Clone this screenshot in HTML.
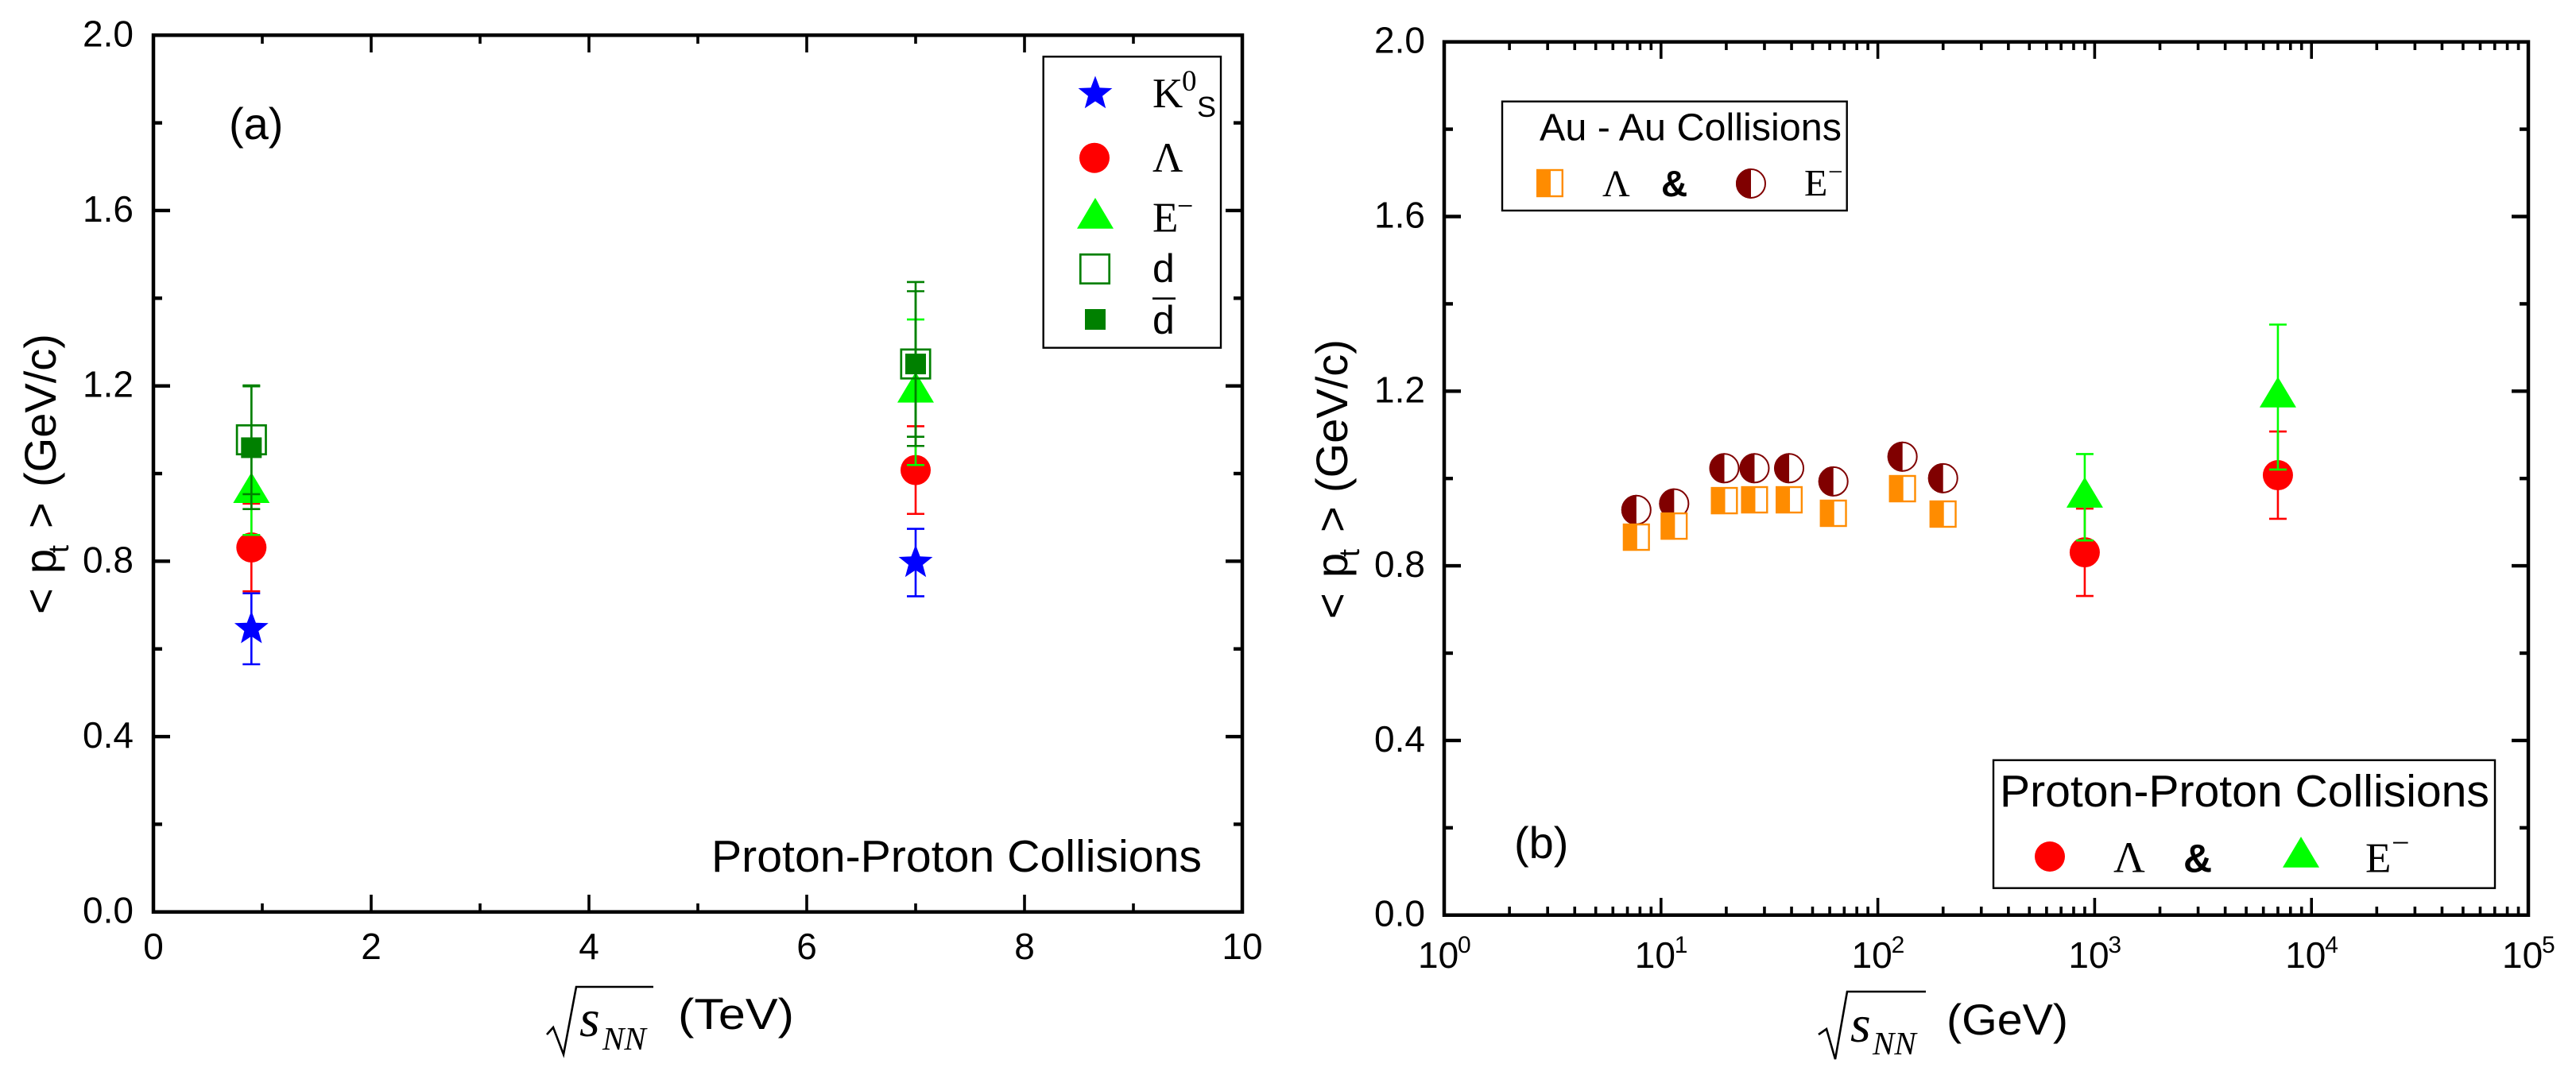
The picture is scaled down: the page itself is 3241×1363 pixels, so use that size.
<!DOCTYPE html>
<html lang="en">
<head>
<meta charset="utf-8">
<title>Mean transverse momentum versus collision energy</title>
<style>
html,body{margin:0;padding:0;background:#fff;width:3241px;height:1363px;overflow:hidden}
svg{display:block}
.sans{font-family:"Liberation Sans",Arial,sans-serif;fill:#000}
.serif{font-family:"Liberation Serif","Times New Roman",serif;fill:#000}
.tick{font-size:46px}
.ytitle{font-size:56px}
</style>
</head>
<body>
<svg id="figure" xmlns="http://www.w3.org/2000/svg" width="3241" height="1363" viewBox="0 0 3241 1363">
<rect x="0" y="0" width="3241" height="1363" fill="#fff"/>

<!-- Panel A -->
<g id="panel-a">
  <g id="a-marks"></g>
  <rect x="193" y="44.3" width="1370" height="1103.4" fill="none" stroke="#000" stroke-width="4.5"/>
  <g id="a-axes"></g>
  <text class="sans" x="288" y="175" font-size="56">(a)</text>
  <text class="sans" x="895" y="1097" font-size="56.6" textLength="617" lengthAdjust="spacingAndGlyphs">Proton-Proton Collisions</text>

  <g>
    <text class="sans ytitle" transform="translate(70,773) rotate(-90)" x="0" y="0">&lt;</text>
    <text class="sans ytitle" transform="translate(70,722) rotate(-90)" x="0" y="0">p</text>
    <text class="sans" font-size="36" transform="translate(86,696) rotate(-90)" x="0" y="0">t</text>
    <text class="sans ytitle" transform="translate(70,665) rotate(-90)" x="0" y="0">&gt;</text>
    <text class="sans ytitle" transform="translate(70,613) rotate(-90)" x="0" y="0">(GeV/c)</text>
  </g>

  <g>
    <polyline points="688,1302 696,1293 709,1327 725,1242 822,1242" fill="none" stroke="#000" stroke-width="2.6"/>
    <text class="serif" font-size="66" font-style="italic" x="729" y="1304">s</text>
    <text class="serif" font-size="41" font-style="italic" x="758" y="1321">NN</text>
    <text class="sans" font-size="55" x="853" y="1295" textLength="146" lengthAdjust="spacingAndGlyphs">(TeV)</text>
  </g>

  <g>
    <rect x="1312.7" y="71.3" width="223.3" height="366.4" fill="#fff" stroke="#000" stroke-width="2.4"/>
    <polygon id="legend-star" fill="#0000ff"/>
    <circle cx="1377" cy="198.7" r="19" fill="#ff0000"/>
    <polygon points="1378,249 1401,287.7 1355,287.7" fill="#00ff00"/>
    <rect x="1359.3" y="320.3" width="36.4" height="36.4" fill="none" stroke="#008000" stroke-width="2.7"/>
    <rect x="1365" y="389" width="26" height="26" fill="#008000"/>
    <g>
      <text class="serif" font-size="53" x="1450" y="135">K</text>
      <text class="serif" font-size="37" x="1487" y="114">0</text>
      <text class="sans" font-size="36" x="1506" y="147">S</text>
    </g>
    <text class="serif" font-size="53" x="1450" y="216">Λ</text>
    <g>
      <text class="serif" font-size="53" x="1450" y="291.7">E</text>
      <text class="serif" font-size="36" x="1481" y="271">−</text>
    </g>
    <text class="sans" font-size="50" x="1450" y="355">d</text>
    <g>
      <line x1="1450" y1="375.7" x2="1479" y2="375.7" stroke="#000" stroke-width="2.6"/>
      <text class="sans" font-size="50" x="1450" y="420">d</text>
    </g>
  </g>
</g>

<!-- Panel B -->
<g id="panel-b">
  <g id="b-marks"></g>
  <rect x="1817" y="52.7" width="1364" height="1099" fill="none" stroke="#000" stroke-width="4.5"/>
  <g id="b-axes"></g>
  <text class="sans" x="1905" y="1080" font-size="56">(b)</text>

  <g>
    <text class="sans ytitle" transform="translate(1695,779) rotate(-90)" x="0" y="0">&lt;</text>
    <text class="sans ytitle" transform="translate(1695,727) rotate(-90)" x="0" y="0">p</text>
    <text class="sans" font-size="36" transform="translate(1710,701) rotate(-90)" x="0" y="0">t</text>
    <text class="sans ytitle" transform="translate(1695,670) rotate(-90)" x="0" y="0">&gt;</text>
    <text class="sans ytitle" transform="translate(1695,620) rotate(-90)" x="0" y="0">(GeV/c)</text>
  </g>

  <g>
    <polyline points="2288,1302 2298,1295 2309,1333 2324,1248 2423,1248" fill="none" stroke="#000" stroke-width="2.6"/>
    <text class="serif" font-size="66" font-style="italic" x="2328" y="1311">s</text>
    <text class="serif" font-size="41" font-style="italic" x="2356" y="1327">NN</text>
    <text class="sans" font-size="55" x="2449" y="1302" textLength="153" lengthAdjust="spacingAndGlyphs">(GeV)</text>
  </g>

  <g>
    <rect x="1890" y="127.7" width="433.7" height="137.3" fill="#fff" stroke="#000" stroke-width="2.4"/>
    <text class="sans" font-size="47.8" x="1937" y="176.7" textLength="380" lengthAdjust="spacingAndGlyphs">Au - Au Collisions</text>
    <rect x="1934.2" y="214" width="31.6" height="33" fill="#fff" stroke="#ff8c00" stroke-width="2.4"/>
    <rect x="1934" y="214" width="17" height="33" fill="#ff8c00"/>
    <text class="serif" font-size="48" x="2016" y="247">Λ</text>
    <text class="sans" font-size="46" font-weight="bold" x="2090" y="247">&amp;</text>
    <circle cx="2203" cy="231" r="18" fill="#fff" stroke="#800000" stroke-width="2"/>
    <path d="M2203,212 A19,19 0 0 0 2203,250 Z" fill="#800000"/>
    <text class="serif" font-size="48" x="2270" y="246.7">E</text>
    <text class="serif" font-size="33" x="2300" y="227">−</text>
  </g>

  <g>
    <rect x="2508" y="956.7" width="631" height="161" fill="#fff" stroke="#000" stroke-width="2.4"/>
    <text class="sans" font-size="56.6" x="2516" y="1015" textLength="616" lengthAdjust="spacingAndGlyphs">Proton-Proton Collisions</text>
    <circle cx="2579" cy="1078" r="19" fill="#ff0000"/>
    <text class="serif" font-size="55" x="2659" y="1097.7">Λ</text>
    <text class="sans" font-size="50" font-weight="bold" x="2747" y="1097.7">&amp;</text>
    <polygon points="2895,1053 2918,1091.7 2872,1091.7" fill="#00ff00"/>
    <text class="serif" font-size="53" x="2976" y="1097.7">E</text>
    <text class="serif" font-size="40" x="3009" y="1074">−</text>
  </g>
</g>
</svg>

<script>
// ---- Shared axis values ----
const yMajorTicks = [0, 0.4, 0.8, 1.2, 1.6, 2.0];
const yMinorTicks = [0.2, 0.6, 1.0, 1.4, 1.8];
const yTickLabels = ['0.0', '0.4', '0.8', '1.2', '1.6', '2.0'];

// ---- Panel A axis values ----
const aXMajorTicks = [0, 2, 4, 6, 8, 10];
const aXMinorTicks = [1, 3, 5, 7, 9];
const aXTickLabels = ['0', '2', '4', '6', '8', '10'];

// ---- Panel A data (energy in TeV) ----
const aEnergy = [0.9, 7];
const kaon = [0.646, 0.797];
const kaonErr = [0.081, 0.077];
const lambdaPP = [0.8315, 1.008];
const lambdaPPErr = [0.1, 0.1];
const xiPP = [0.9565, 1.1855];
const xiPPErr = [0.0965, 0.166];
const deuteron = [1.077, 1.25];
const deuteronErr = [0.124, 0.187];
const antideuteron = [1.059, 1.25];
const antideuteronErr = [0.14, 0.166];

// ---- Panel B axis values ----
const bDecades = [0, 1, 2, 3, 4, 5];
const bMinorMultipliers = [2, 3, 4, 5, 6, 7, 8, 9];

// ---- Panel B data (energy in GeV) ----
const auEnergy = [7.7, 11.5, 19.6, 27, 39, 62.4, 130, 200];
const auLambda = [0.8656, 0.891, 0.9493, 0.9512, 0.9512, 0.9203, 0.9767, 0.9185];
const auXi = [0.928, 0.9427, 1.0235, 1.0235, 1.0235, 0.9933, 1.05, 1.0007];
const ppEnergy = [900, 7000];
const ppLambda = [0.831, 1.0076];
const ppLambdaErr = [0.1, 0.1];
const ppXi = [0.957, 1.1865];
const ppXiErr = [0.099, 0.166];

// ---- Axis functions ----
const axA = {
  x: v => 193 + 137 * v,
  y: v => 1147.7 - 551.7 * v
};
const axB = {
  x: v => 1817 + 272.8 * Math.log10(v),
  y: v => 1151.7 - 549.5 * v
};

const NS = 'http://www.w3.org/2000/svg';
function svgEl(parent, tag, attrs) {
  const el = document.createElementNS(NS, tag);
  for (const k in attrs) el.setAttribute(k, attrs[k]);
  parent.appendChild(el);
  return el;
}
function starPoints(cx, cy, R) {
  const pts = [];
  for (let i = 0; i < 10; i++) {
    const r = i % 2 ? R * 0.42 : R;
    const t = -Math.PI / 2 + i * Math.PI / 5;
    pts.push((cx + r * Math.cos(t)).toFixed(1) + ',' + (cy + r * Math.sin(t)).toFixed(1));
  }
  return pts.join(' ');
}

// ---- Mark drawing ----
function errorBar(parent, yFn, px, value, err, color, seriesName) {
  const g = svgEl(parent, 'g', { stroke: color, 'stroke-width': 2.6 });
  
  
  const top = yFn(value + err);
  const bot = yFn(value - err);
  const stem = svgEl(g, 'line', { x1: px, x2: px, y1: top, y2: bot });
  
  
  const capHi = svgEl(g, 'line', { x1: px - 11, x2: px + 11, y1: top, y2: top });
  
  
  const capLo = svgEl(g, 'line', { x1: px - 11, x2: px + 11, y1: bot, y2: bot });
  
  
}
function marker(parent, kind, px, py, seriesName) {
  let el;
  if (kind === 'star') {
    el = svgEl(parent, 'polygon', { points: starPoints(px, py, 22.5), fill: '#0000ff' });
  } else if (kind === 'circle') {
    el = svgEl(parent, 'circle', { cx: px, cy: py, r: 19, fill: '#ff0000' });
  } else if (kind === 'triangle') {
    el = svgEl(parent, 'polygon', {
      points: px + ',' + (py - 25.5) + ' ' + (px + 23) + ',' + (py + 13) + ' ' + (px - 23) + ',' + (py + 13),
      fill: '#00ff00'
    });
  } else if (kind === 'open-square') {
    el = svgEl(parent, 'rect', { x: px - 18.2, y: py - 18.2, width: 36.4, height: 36.4, fill: 'none', stroke: '#008000', 'stroke-width': 2.7 });
  } else {
    el = svgEl(parent, 'rect', { x: px - 13, y: py - 13, width: 26, height: 26, fill: '#008000' });
  }
  
  
}
function errorSeries(parent, ax, xs, ys, errs, kind, color, seriesName) {
  xs.forEach((xv, i) => {
    errorBar(parent, ax.y, ax.x(xv), ys[i], errs[i], color, seriesName);
    marker(parent, kind, ax.x(xv), ax.y(ys[i]), seriesName);
  });
}
function halfCircle(parent, px, py) {
  const o = svgEl(parent, 'circle', { cx: px, cy: py, r: 18, fill: '#fff', stroke: '#800000', 'stroke-width': 2 });
  
  
  const h = svgEl(parent, 'path', { d: 'M' + px + ',' + (py - 19) + ' A19,19 0 0 0 ' + px + ',' + (py + 19) + ' Z', fill: '#800000' });
  
  
}
function halfSquare(parent, px, py) {
  const o = svgEl(parent, 'rect', { x: px - 15.8, y: py - 16, width: 31.6, height: 32, fill: '#fff', stroke: '#ff8c00', 'stroke-width': 2.4 });
  
  
  const h = svgEl(parent, 'rect', { x: px - 17, y: py - 17, width: 18, height: 34, fill: '#ff8c00' });
  
  
}

// ---- Tick drawing ----
function tickLine(parent, x1, y1, x2, y2, w, name) {
  const el = svgEl(parent, 'line', { x1: x1, y1: y1, x2: x2, y2: y2, stroke: '#000', 'stroke-width': w });
  
  
}
function yAxisTicks(parent, ax, left, right, labelRight) {
  yMajorTicks.forEach((v, i) => {
    const y = ax.y(v);
    if (i > 0 && i < yMajorTicks.length - 1) {
      tickLine(parent, left, y, left + 21, y, 4.4, 'y-major-tick');
      tickLine(parent, right - 21, y, right, y, 4.4, 'y-major-tick-right');
    }
    const t = svgEl(parent, 'text', { x: labelRight, y: y + 14, class: 'sans tick', 'text-anchor': 'end' });
    
    
    t.textContent = yTickLabels[i];
  });
  yMinorTicks.forEach(v => {
    const y = ax.y(v);
    tickLine(parent, left, y, left + 11, y, 4.4, 'y-minor-tick');
    tickLine(parent, right - 11, y, right, y, 4.4, 'y-minor-tick-right');
  });
}

// ---- Panel A ----
const aMarks = document.getElementById('a-marks');
errorSeries(aMarks, axA, aEnergy, kaon, kaonErr, 'star', '#0000ff', 'kaon');
errorSeries(aMarks, axA, aEnergy, lambdaPP, lambdaPPErr, 'circle', '#ff0000', 'lambda');
errorSeries(aMarks, axA, aEnergy, xiPP, xiPPErr, 'triangle', '#00ff00', 'xi');
errorSeries(aMarks, axA, aEnergy, deuteron, deuteronErr, 'open-square', '#008000', 'deuteron');
errorSeries(aMarks, axA, aEnergy, antideuteron, antideuteronErr, 'square', '#008000', 'antideuteron');

const aAxes = document.getElementById('a-axes');
yAxisTicks(aAxes, axA, 193, 1563, 168);
aXMajorTicks.forEach((v, i) => {
  const x = axA.x(v);
  if (i > 0 && i < aXMajorTicks.length - 1) {
    tickLine(aAxes, x, 1147.7, x, 1126, 3.6, 'x-major-tick');
    tickLine(aAxes, x, 44.3, x, 66, 3.6, 'x-major-tick-top');
  }
  const t = svgEl(aAxes, 'text', { x: x, y: 1207, class: 'sans tick', 'text-anchor': 'middle' });
  
  
  t.textContent = aXTickLabels[i];
});
aXMinorTicks.forEach(v => {
  const x = axA.x(v);
  tickLine(aAxes, x, 1147.7, x, 1137, 3.6, 'x-minor-tick');
  tickLine(aAxes, x, 44.3, x, 55, 3.6, 'x-minor-tick-top');
});

// ---- Panel B ----
const bMarks = document.getElementById('b-marks');
auEnergy.forEach((e, i) => {
  halfCircle(bMarks, axB.x(e), axB.y(auXi[i]));
});
auEnergy.forEach((e, i) => {
  halfSquare(bMarks, axB.x(e), axB.y(auLambda[i]));
});
errorSeries(bMarks, axB, ppEnergy, ppLambda, ppLambdaErr, 'circle', '#ff0000', 'pp-lambda');
errorSeries(bMarks, axB, ppEnergy, ppXi, ppXiErr, 'triangle', '#00ff00', 'pp-xi');

const bAxes = document.getElementById('b-axes');
yAxisTicks(bAxes, axB, 1817, 3181, 1793);
bDecades.forEach((d, i) => {
  const x = axB.x(Math.pow(10, d));
  if (i > 0 && i < bDecades.length - 1) {
    tickLine(bAxes, x, 1151.7, x, 1130, 3.6, 'x-major-tick');
    tickLine(bAxes, x, 52.7, x, 74, 3.6, 'x-major-tick-top');
  }
  const g = svgEl(bAxes, 'g', {});
  
  
  const base = svgEl(g, 'text', { x: x - 33, y: 1218, class: 'sans tick' });
  
  
  base.textContent = '10';
  const sup = svgEl(g, 'text', { x: x + 17, y: 1199, class: 'sans', 'font-size': 30 });
  
  
  sup.textContent = String(d);
  if (i < bDecades.length - 1) {
    bMinorMultipliers.forEach(m => {
      const mx = axB.x(m * Math.pow(10, d));
      tickLine(bAxes, mx, 1151.7, mx, 1141, 3.6, 'x-minor-tick');
      tickLine(bAxes, mx, 52.7, mx, 63, 3.6, 'x-minor-tick-top');
    });
  }
});

document.getElementById('legend-star').setAttribute('points', starPoints(1378, 118, 22.5));
</script>
</body>
</html>
